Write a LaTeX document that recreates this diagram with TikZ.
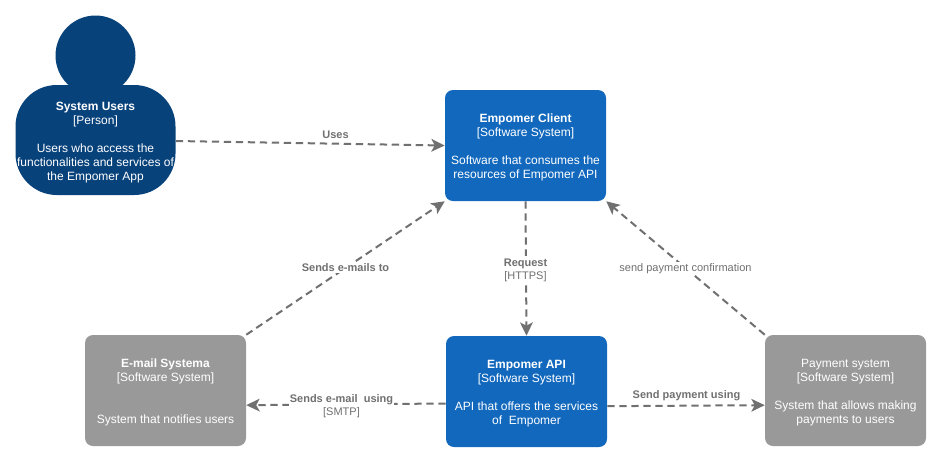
\documentclass[tikz,border=0pt]{standalone}
\usepackage{fontspec}
\setmainfont{Liberation Sans}
\usetikzlibrary{arrows.meta}
\definecolor{personblue}{HTML}{08427B}
\definecolor{systemblue}{HTML}{1168BD}
\definecolor{extgray}{HTML}{999999}
\definecolor{linkgray}{HTML}{707070}
% pushes a tabular down inside its node
\newcommand{\lowerby}[1]{\rule{0pt}{\dimexpr7.35pt+#1\relax}}

\begin{document}
\begin{tikzpicture}[x=0.75pt,y=-0.75pt,
  system/.style={rectangle,rounded corners=6pt,minimum width=120.75pt,minimum height=83.25pt,inner sep=0pt,text=white,font=\fontsize{9}{10.5}\selectfont},
  internal/.style={system,fill=systemblue},
  external/.style={system,fill=extgray},
  link/.style={-{Stealth[length=10pt,width=9.5pt,inset=2.5pt]},draw=linkgray,line width=1.5pt,dash pattern=on 5.5pt off 3.5pt},
  linklabel/.style={inner sep=1pt,text=linkgray,font=\fontsize{8.25}{9.75}\selectfont}]
\useasboundingbox (0,0) rectangle (941,462);

\node [circle,fill=personblue,minimum size=60pt,inner sep=0pt] (head) at (95.5,55.5) {};
\node [system,fill=personblue,minimum width=120pt,minimum height=82.5pt,rounded corners=31pt] (users) at (95.5,140) {\begin{tabular}{@{}c@{}}\lowerby{4.5pt}\textbf{System Users} \\ {[Person]} \\ \\ Users who access the \\ functionalities and services of \\ the Empomer App\end{tabular}};

\node [internal] (client) at (525.5,145.5) {\begin{tabular}{@{}c@{}}\lowerby{3pt}\textbf{Empomer Client} \\ {[Software System]} \\ \\ Software that consumes the \\ resources of Empomer API\end{tabular}};
\node [internal] (api) at (526.5,391.5) {\begin{tabular}{@{}c@{}}\lowerby{3pt}\textbf{Empomer API} \\ {[Software System]} \\ \\ API that offers the services \\ of\ \ Empomer\end{tabular}};
\node [external] (email) at (165.5,390.5) {\begin{tabular}{@{}c@{}}\lowerby{3pt}\textbf{E-mail Systema} \\ {[Software System]} \\ \\ \\ System that notifies users\end{tabular}};
\node [external] (payment) at (845.5,390.5) {\begin{tabular}{@{}c@{}}\lowerby{3pt}Payment system \\ {[Software System]} \\ \\ System that allows making \\ payments to users\end{tabular}};

\draw [link] ([yshift=-0.75pt]users.east) -- (client.west);
\draw [link] (email.north east) -- (client.south west);
\draw [link] (client.south) -- (api.north);
\draw [link] (payment.north west) -- (client.south east);
\draw [link] ([yshift=-9pt]api.west) -- ([yshift=-11pt]email.east);
\draw [link] ([yshift=-11pt]api.east) -- ([yshift=-11pt]payment.west);

\node [linklabel] (usesl) at (335.5,135) {\textbf{Uses}};
\node [linklabel,fill=white] (emailsl) at (345.5,267.5) {\textbf{Sends e-mails to}};
\node [linklabel,fill=white] (requestl) at (525.5,270) {\begin{tabular}{@{}c@{}}\textbf{Request} \\ {[HTTPS]}\end{tabular}};
\node [linklabel,fill=white] (confirml) at (685.5,268.5) {send payment confirmation};
\node [linklabel,fill=white] (smtpl) at (341.5,406) {\begin{tabular}{@{}c@{}}\textbf{Sends e-mail\ \ using} \\ {[SMTP]}\end{tabular}};
\node [linklabel] (paysl) at (686.5,396) {\textbf{Send payment using}};
\end{tikzpicture}
\end{document}
